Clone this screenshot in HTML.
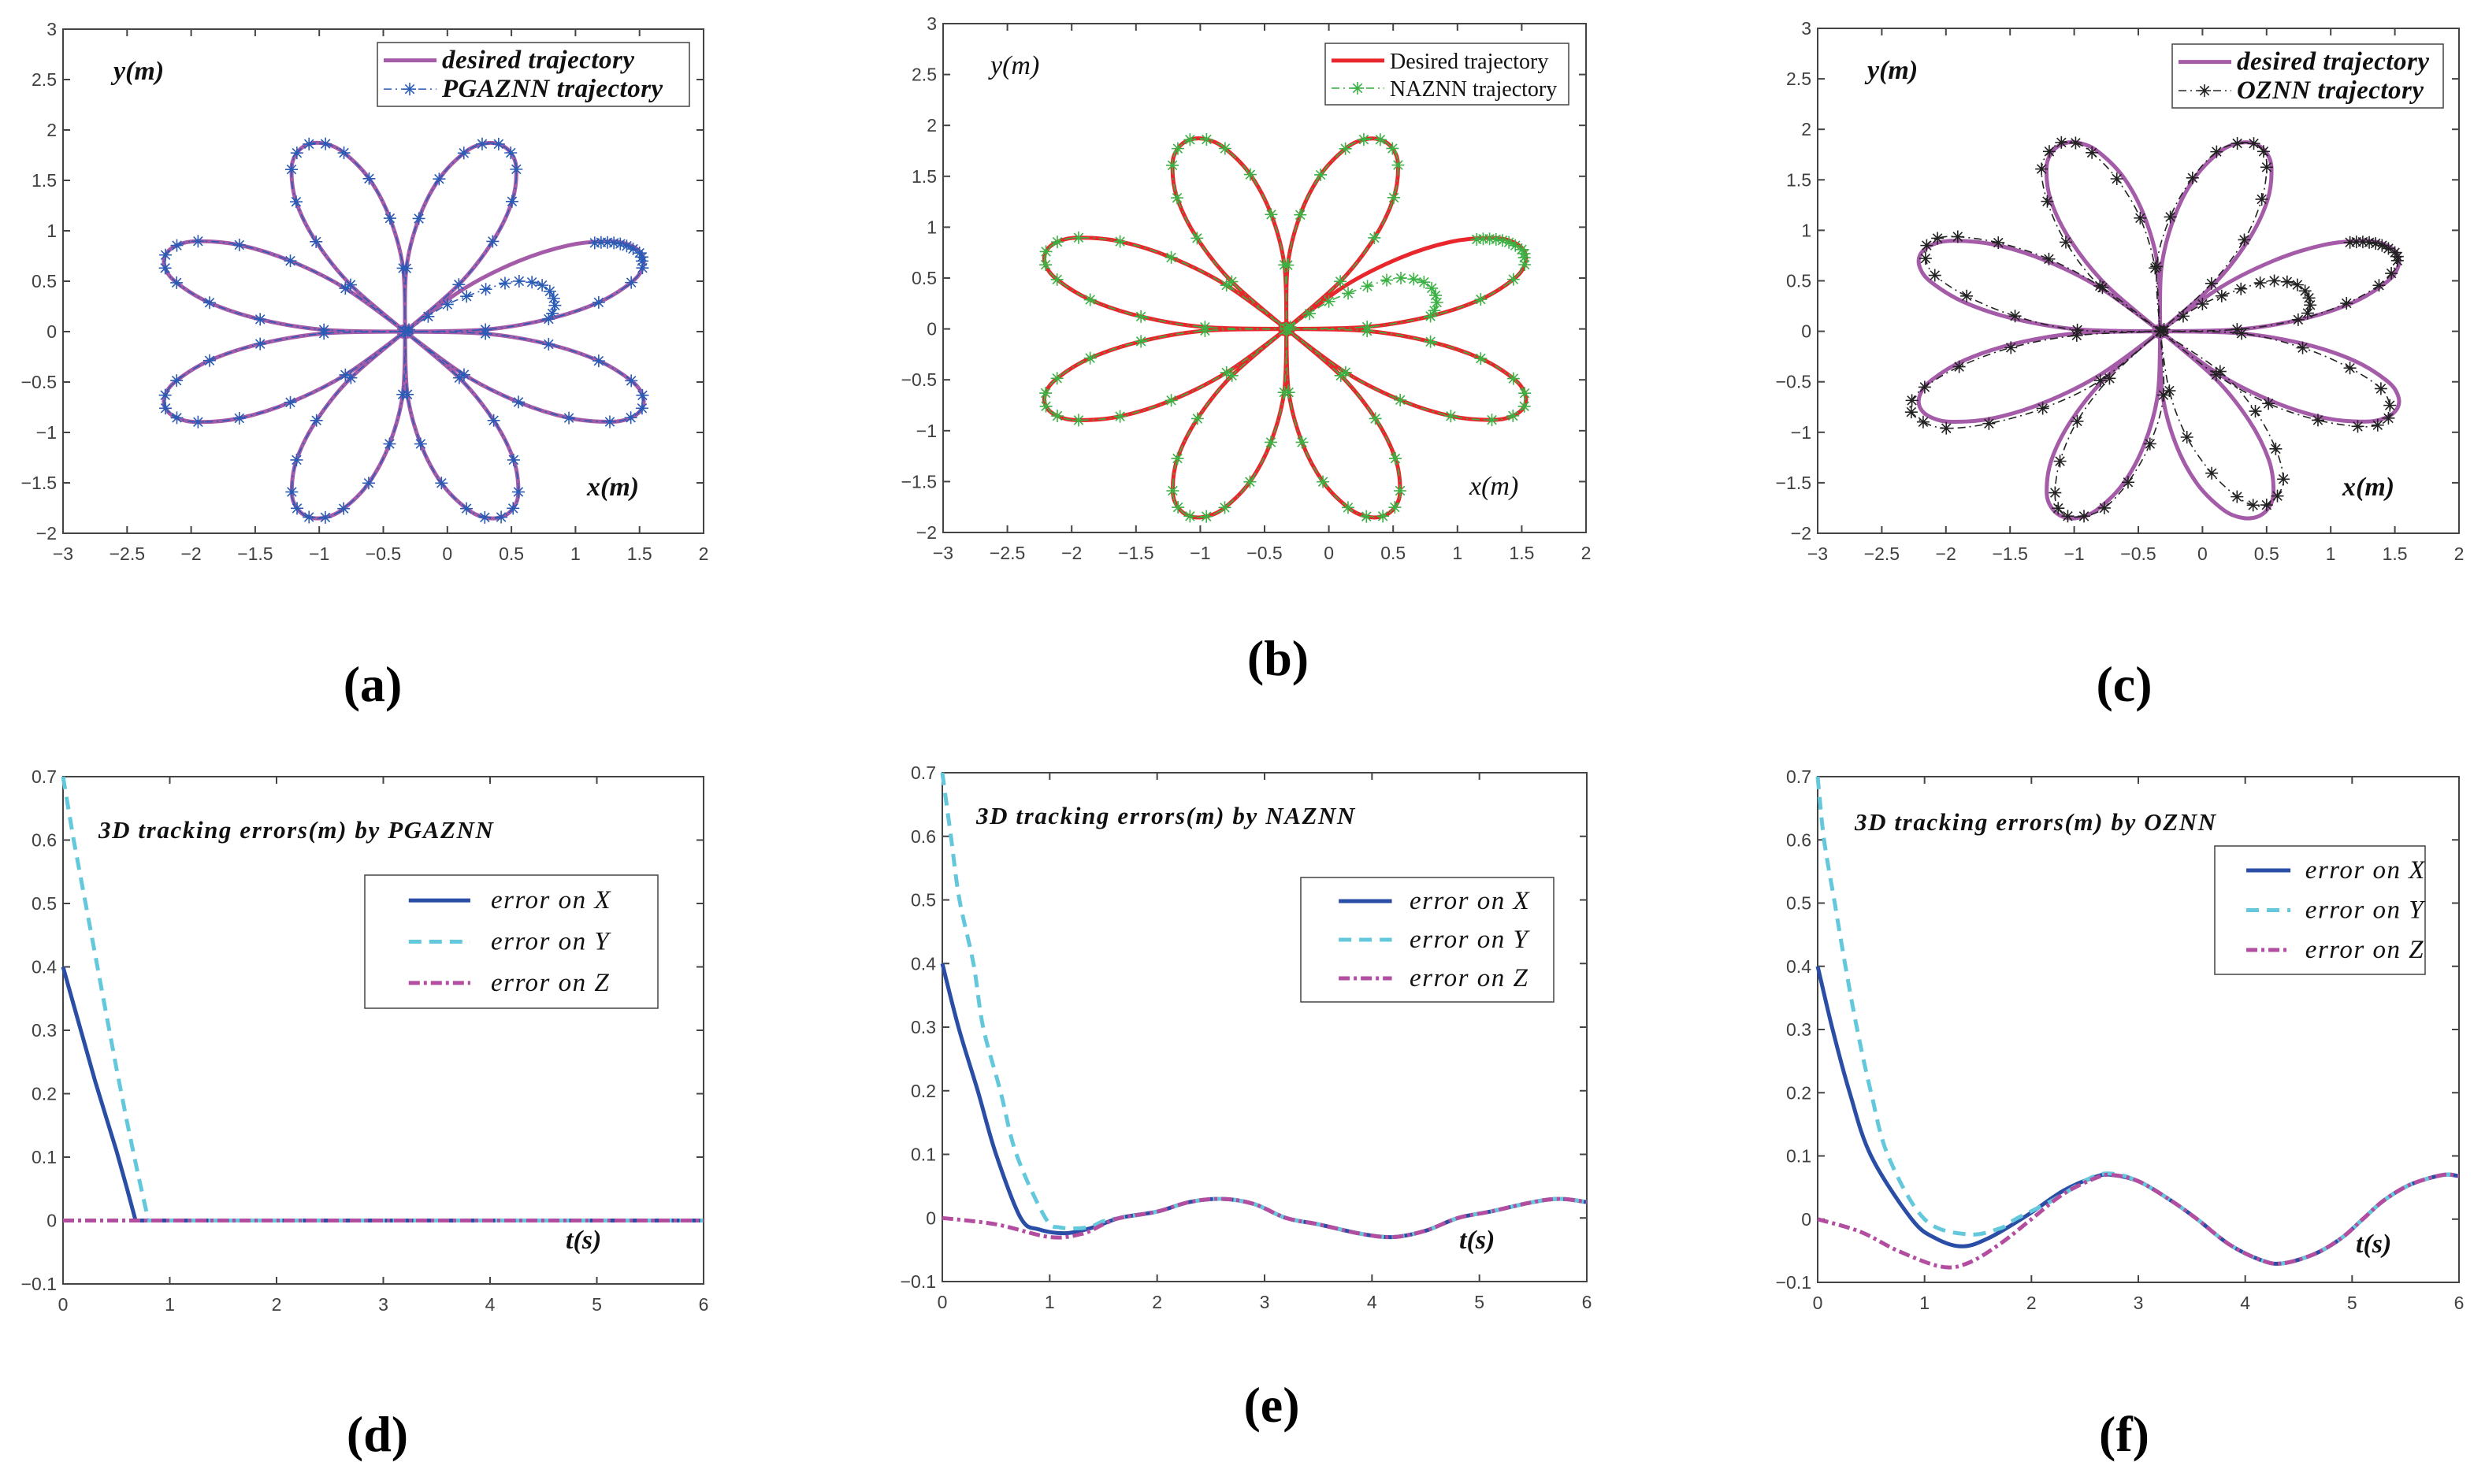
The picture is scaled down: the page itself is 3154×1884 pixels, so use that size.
<!DOCTYPE html>
<html><head><meta charset="utf-8"><style>
html,body{margin:0;padding:0;background:#fff;}
svg{display:block;}
.tick{font-family:"Liberation Sans",sans-serif;font-size:23px;fill:#404040;}
.it{font-family:"Liberation Serif",serif;font-style:italic;fill:#111;}
.cap{font-family:"Liberation Serif",serif;font-weight:bold;font-size:64px;fill:#000;}
</style></head><body>
<svg id="fig" width="3154" height="1884" viewBox="0 0 3154 1884" xmlns="http://www.w3.org/2000/svg"></svg>
<script>
// ---- trajectory data ----
const centerX = -0.33, centerY = 0.0;
const tipX = [1.52, 0.40, -1.08, -2.20, -2.20, -1.08, 0.42, 1.52];
const tipY = [0.76, 1.86, 1.86, 0.76, -0.76, -1.84, -1.84, -0.76];
const profU = [0, 0.294, 0.542, 0.754, 0.909, 0.977, 1, 0.977, 0.909, 0.754, 0.542, 0.294, 0];
const profV = [0, 0.11, 0.155, 0.153, 0.11, 0.06, 0, -0.06, -0.11, -0.153, -0.155, -0.11, 0];
const tipXc = [1.48, 0.40, -1.10, -2.15, -2.27, -1.05, 0.50, 1.45];
const tipYc = [0.68, 1.86, 1.87, 0.85, -0.80, -1.83, -1.72, -0.86];
const profVc = [0, 0.13, 0.17, 0.16, 0.12, 0.06, 0, -0.05, -0.09, -0.13, -0.14, -0.10, 0];
const hookX = [0.82, 0.84, 0.83, 0.80, 0.74, 0.66, 0.56, 0.45, 0.30, 0.15, 0.0, -0.15, -0.30];
const hookY = [0.18, 0.26, 0.33, 0.40, 0.46, 0.49, 0.50, 0.48, 0.42, 0.35, 0.27, 0.15, 0.02];
const clusterX = [1.15, 1.20, 1.25, 1.30, 1.35, 1.40, 1.45, 1.50, 1.52, 1.52];
const clusterY = [0.88, 0.885, 0.885, 0.88, 0.87, 0.85, 0.82, 0.78, 0.74, 0.70];
const xTicksTraj = [-3, -2.5, -2, -1.5, -1, -0.5, 0, 0.5, 1, 1.5, 2];
const yTicksTraj = [-2, -1.5, -1, -0.5, 0, 0.5, 1, 1.5, 2, 2.5, 3];
// ---- error data ----
const tTicks = [0, 1, 2, 3, 4, 5, 6];
const eTicks = [-0.1, 0, 0.1, 0.2, 0.3, 0.4, 0.5, 0.6, 0.7];
const dTx = [0, 0.1, 0.2, 0.3, 0.4, 0.5, 0.6, 0.68, 6];
const dX = [0.4, 0.34, 0.28, 0.22, 0.165, 0.11, 0.05, 0, 0];
const dTy = [0, 0.1, 0.2, 0.3, 0.4, 0.5, 0.6, 0.7, 0.8, 6];
const dY = [0.7, 0.6, 0.51, 0.42, 0.33, 0.24, 0.155, 0.075, 0, 0];
const dTz = [0, 6];
const dZ = [0, 0];
const eTz = [0, 0.5, 1.0, 1.3, 1.5, 1.65, 2.0, 2.3, 2.6, 2.9, 3.2, 3.5, 3.9, 4.2, 4.5, 4.8, 5.1, 5.5, 5.75, 6.0];
const eZ = [0, -0.01, -0.03, -0.025, -0.01, 0, 0.01, 0.025, 0.03, 0.022, 0, -0.01, -0.025, -0.03, -0.02, 0, 0.01, 0.025, 0.03, 0.025];
const eTx = [0, 0.15, 0.33, 0.5, 0.73, 0.9, 1.15, 1.4, 1.65, 2.0, 2.3, 2.6, 2.9, 3.2, 3.5, 3.9, 4.2, 4.5, 4.8, 5.1, 5.5, 5.75, 6.0];
const eX = [0.4, 0.3, 0.2, 0.1, 0.0, -0.018, -0.024, -0.015, 0, 0.01, 0.025, 0.03, 0.022, 0, -0.01, -0.025, -0.03, -0.02, 0, 0.01, 0.025, 0.03, 0.025];
const eTy = [0, 0.08, 0.16, 0.29, 0.38, 0.54, 0.69, 0.96, 1.1, 1.35, 1.5, 1.65, 2.0, 2.3, 2.6, 2.9, 3.2, 3.5, 3.9, 4.2, 4.5, 4.8, 5.1, 5.5, 5.75, 6.0];
const eY = [0.7, 0.6, 0.5, 0.4, 0.3, 0.2, 0.1, 0, -0.015, -0.015, -0.005, 0, 0.01, 0.025, 0.03, 0.022, 0, -0.01, -0.025, -0.03, -0.02, 0, 0.01, 0.025, 0.03, 0.025];
const fTz = [0, 0.4, 0.75, 1.15, 1.4, 1.7, 2.0, 2.3, 2.6, 2.75, 3.0, 3.3, 3.55, 3.85, 4.15, 4.35, 4.65, 4.9, 5.1, 5.3, 5.55, 5.85, 6.0];
const fZ = [0, -0.02, -0.05, -0.075, -0.07, -0.04, 0, 0.04, 0.065, 0.07, 0.06, 0.03, 0, -0.04, -0.065, -0.07, -0.055, -0.03, 0, 0.03, 0.055, 0.07, 0.068];
const fTx = [0, 0.14, 0.3, 0.5, 0.88, 1.1, 1.35, 1.6, 1.95, 2.3, 2.6, 2.75, 3.0, 3.3, 3.55, 3.85, 4.15, 4.35, 4.65, 4.9, 5.1, 5.3, 5.55, 5.85, 6.0];
const fX = [0.4, 0.3, 0.2, 0.1, 0, -0.03, -0.043, -0.03, 0.005, 0.045, 0.067, 0.07, 0.06, 0.03, 0, -0.04, -0.065, -0.07, -0.055, -0.03, 0, 0.03, 0.055, 0.07, 0.068];
const fTy = [0, 0.06, 0.16, 0.26, 0.37, 0.5, 0.66, 1.0, 1.4, 1.7, 1.85, 2.2, 2.55, 2.75, 3.0, 3.3, 3.55, 3.85, 4.15, 4.35, 4.65, 4.9, 5.1, 5.3, 5.55, 5.85, 6.0];
const fY = [0.7, 0.6, 0.5, 0.4, 0.3, 0.2, 0.1, 0, -0.024, -0.015, 0, 0.03, 0.065, 0.072, 0.06, 0.03, 0, -0.04, -0.065, -0.07, -0.055, -0.03, 0, 0.03, 0.055, 0.07, 0.068];

const NS = "http://www.w3.org/2000/svg";
const svg = document.getElementById('fig');
function mk(tag, attrs, parent) {
  const e = document.createElementNS(NS, tag);
  for (const k in attrs) e.setAttribute(k, attrs[k]);
  (parent || svg).appendChild(e);
  return e;
}
function txt(s, x, y, cls, size, anchor, parent) {
  const t = mk('text', {x: x, y: y, class: cls, 'font-size': size, 'text-anchor': anchor || 'start'}, parent);
  t.textContent = s;
  return t;
}
function smooth(pts) {
  if (pts.length < 2) return '';
  let d = 'M' + pts[0][0].toFixed(1) + ',' + pts[0][1].toFixed(1);
  for (let i = 0; i < pts.length - 1; i++) {
    const p0 = pts[Math.max(0, i - 1)], p1 = pts[i], p2 = pts[i + 1], p3 = pts[Math.min(pts.length - 1, i + 2)];
    const c1 = [p1[0] + (p2[0] - p0[0]) / 6, p1[1] + (p2[1] - p0[1]) / 6];
    const c2 = [p2[0] - (p3[0] - p1[0]) / 6, p2[1] - (p3[1] - p1[1]) / 6];
    d += 'C' + c1[0].toFixed(1) + ',' + c1[1].toFixed(1) + ' ' + c2[0].toFixed(1) + ',' + c2[1].toFixed(1) + ' ' + p2[0].toFixed(1) + ',' + p2[1].toFixed(1);
  }
  return d;
}
function axes(g, L, R, T, B, xmin, xmax, ymin, ymax, xt, yt, fmt) {
  const sx = v => L + (v - xmin) / (xmax - xmin) * (R - L);
  const sy = v => B - (v - ymin) / (ymax - ymin) * (B - T);
  const box = mk('rect', {x: L, y: T, width: R - L, height: B - T, fill: 'none', stroke: '#444', 'stroke-width': 2}, g);
  
  
  xt.forEach(v => {
    const x = sx(v);
    mk('line', {x1: x, y1: B, x2: x, y2: B - 9, stroke: '#444', 'stroke-width': 2}, g);
    mk('line', {x1: x, y1: T, x2: x, y2: T + 9, stroke: '#444', 'stroke-width': 2}, g);
    const t = txt(fmt(v), x, B + 34, 'tick', 23, 'middle', g);
    
    
  });
  yt.forEach(v => {
    const y = sy(v);
    mk('line', {x1: L, y1: y, x2: L + 9, y2: y, stroke: '#444', 'stroke-width': 2}, g);
    mk('line', {x1: R, y1: y, x2: R - 9, y2: y, stroke: '#444', 'stroke-width': 2}, g);
    const t = txt(fmt(v), L - 8, y + 8, 'tick', 23, 'end', g);
    
    
  });
  return {sx, sy};
}
const fmtN = v => (v < 0 ? '\u2212' : '') + String(Math.abs(Math.round(v * 10) / 10));
function petalPts(tx, ty, pv, k, i0, i1) {
  const dx = tx[k] - centerX, dy = ty[k] - centerY;
  const out = [];
  for (let i = i0; i <= i1; i++) {
    out.push([centerX + profU[i] * dx - pv[i] * dy, centerY + profU[i] * dy + pv[i] * dx]);
  }
  return out;
}
function star(g, x, y, col) {
  const s = 8, d = 5.7;
  mk('path', {d: `M${x - s},${y}L${x + s},${y}M${x},${y - s}L${x},${y + s}M${x - d},${y - d}L${x + d},${y + d}M${x - d},${y + d}L${x + d},${y - d}`, stroke: col, 'stroke-width': 1.6, fill: 'none'}, g);
}
function trajPanel(name, L, R, T, B, opts) {
  const g = mk('g', {});
  
  
  const {sx, sy} = axes(g, L, R, T, B, -3, 2, -2, 3, xTicksTraj, yTicksTraj, fmtN);
  const P = p => [sx(p[0]), sy(p[1])];
  let des = [];
  for (let k = 0; k < 8; k++) des = des.concat(petalPts(tipX, tipY, profV, k, 0, 12));
  const dp = mk('path', {d: smooth(des.map(P)), fill: 'none', stroke: opts.desCol, 'stroke-width': 5, 'stroke-linejoin': 'round'}, g);
  
  
  const tx = opts.tx, ty = opts.ty, pv = opts.pv;
  let act = clusterX.map((v, i) => [v, clusterY[i]]);
  act = act.concat(petalPts(tx, ty, pv, 0, 7, 12));
  for (let k = 1; k < 8; k++) act = act.concat(petalPts(tx, ty, pv, k, 0, 12));
  const hook = hookX.map((v, i) => [v, hookY[i]]);
  [hook, act].forEach(arr => {
    const ap = mk('path', {d: smooth(arr.map(P)), fill: 'none', stroke: opts.actCol, 'stroke-width': 1.6, 'stroke-dasharray': '10 5 2 5'}, g);
    
    
    arr.forEach(p => { const q = P(p); star(g, q[0], q[1], opts.actCol); });
  });
  const yl = txt('y(m)', L + opts.yo, T + 64, 'it', 34, 'start', g);
  if (!opts.roman) yl.setAttribute('font-weight', 'bold');
  
  
  const xl = txt('x(m)', R - 148, B - 48, 'it', 34, 'start', g);
  if (!opts.roman) xl.setAttribute('font-weight', 'bold');
  
  
  const lg = mk('g', {}, g);
  
  
  const [lx1, ly1, lx2, ly2] = opts.leg;
  mk('rect', {x: lx1, y: ly1, width: lx2 - lx1, height: ly2 - ly1, fill: '#fff', stroke: '#444', 'stroke-width': 1.5}, lg);
  const r1 = ly1 + (ly2 - ly1) * 0.28, r2 = ly1 + (ly2 - ly1) * 0.73;
  mk('line', {x1: lx1 + 8, y1: r1, x2: lx1 + 75, y2: r1, stroke: opts.desCol, 'stroke-width': 5}, lg);
  mk('line', {x1: lx1 + 8, y1: r2, x2: lx1 + 75, y2: r2, stroke: opts.actCol, 'stroke-width': 1.6, 'stroke-dasharray': '10 5 2 5'}, lg);
  star(lg, lx1 + 41, r2, opts.actCol);
  const cls = opts.roman ? '' : 'it';
  const fs = opts.roman ? 28 : 33;
  const t1 = txt(opts.l1, lx1 + 82, r1 + 10, cls, fs, 'start', lg);
  const t2 = txt(opts.l2, lx1 + 82, r2 + 10, cls, fs, 'start', lg);
  if (opts.roman) { [t1, t2].forEach(t => { t.setAttribute('font-family', '"Liberation Serif", serif'); t.setAttribute('fill', '#111'); }); }
  else { [t1, t2].forEach(t => { t.setAttribute('font-weight', 'bold'); t.setAttribute('letter-spacing', '0.5'); }); }
  
  
  
  
}
function errPanel(name, L, R, T, B, opts) {
  const g = mk('g', {});
  
  
  const {sx, sy} = axes(g, L, R, T, B, 0, 6, -0.1, 0.7, tTicks, eTicks, fmtN);
  const series = [
    {t: opts.tx, v: opts.x, col: '#2A4EA6', dash: '', nm: 'error-x-line'},
    {t: opts.ty, v: opts.y, col: '#64C8DC', dash: '16 10', nm: 'error-y-line'},
    {t: opts.tz, v: opts.z, col: '#B24DA0', dash: '14 5 4 5', nm: 'error-z-line'}
  ];
  series.forEach(s => {
    const pts = s.t.map((t, i) => [sx(t), sy(s.v[i])]);
    const p = mk('path', {d: opts.linear ? 'M' + pts.map(q => q[0].toFixed(1) + ',' + q[1].toFixed(1)).join('L') : smooth(pts), fill: 'none', stroke: s.col, 'stroke-width': 5}, g);
    if (s.dash) p.setAttribute('stroke-dasharray', s.dash);
    
    
  });
  const ti = txt(opts.title, opts.tpos[0], opts.tpos[1], 'it', 31, 'start', g);
  ti.setAttribute('font-weight', 'bold');
  ti.setAttribute('letter-spacing', '1.6');
  
  
  const xl = txt('t(s)', opts.tl[0], opts.tl[1], 'it', 34, 'start', g);
  xl.setAttribute('font-weight', 'bold');
  
  
  const lg = mk('g', {}, g);
  
  
  const [lx1, ly1, lx2, ly2] = opts.leg;
  mk('rect', {x: lx1, y: ly1, width: lx2 - lx1, height: ly2 - ly1, fill: '#fff', stroke: '#444', 'stroke-width': 1.5}, lg);
  const h = ly2 - ly1;
  ['X', 'Y', 'Z'].forEach((c, i) => {
    const yy = ly1 + h * (0.19 + 0.31 * i);
    const s = series[i];
    const ln = mk('line', {x1: lx1 + 0.15 * (lx2 - lx1), y1: yy, x2: lx1 + 0.36 * (lx2 - lx1), y2: yy, stroke: s.col, 'stroke-width': 5}, lg);
    if (s.dash) ln.setAttribute('stroke-dasharray', s.dash);
    const t = txt('error on ' + c, lx1 + 0.43 * (lx2 - lx1), yy + 10, 'it', 33, 'start', lg);
    t.setAttribute('letter-spacing', '1.5');
    
    
  });
}
trajPanel('panel-a', 80, 893, 37, 677, {desCol: '#A45BA8', actCol: '#2A5BB5', tx: tipX, ty: tipY, pv: profV, yo: 64, leg: [479, 54, 875, 135], l1: 'desired trajectory', l2: 'PGAZNN trajectory'});
trajPanel('panel-b', 1197, 2013, 30, 676, {desCol: '#E8262B', actCol: '#3BB143', tx: tipX, ty: tipY, pv: profV, yo: 60, leg: [1682, 55, 1991, 133], l1: 'Desired trajectory', l2: 'NAZNN trajectory', roman: true});
trajPanel('panel-c', 2307, 3121, 36, 677, {desCol: '#A45BA8', actCol: '#222', tx: tipXc, ty: tipYc, pv: profVc, yo: 63, leg: [2757, 56, 3101, 137], l1: 'desired trajectory', l2: 'OZNN trajectory'});
errPanel('panel-d', 80, 893, 986, 1630, {tx: dTx, x: dX, ty: dTy, y: dY, tz: dTz, z: dZ, linear: true, title: '3D tracking errors(m) by PGAZNN', tpos: [125, 1064], tl: [718, 1585], leg: [463, 1111, 835, 1280]});
errPanel('panel-e', 1196, 2014, 981, 1627, {tx: eTx, x: eX, ty: eTy, y: eY, tz: eTz, z: eZ, title: '3D tracking errors(m) by NAZNN', tpos: [1239, 1046], tl: [1852, 1585], leg: [1651, 1114, 1972, 1272]});
errPanel('panel-f', 2307, 3121, 986, 1628, {tx: fTx, x: fX, ty: fTy, y: fY, tz: fTz, z: fZ, title: '3D tracking errors(m) by OZNN', tpos: [2354, 1054], tl: [2990, 1590], leg: [2811, 1074, 3078, 1237]});
[['(a)', 473, 890], ['(b)', 1622, 857], ['(c)', 2696, 890], ['(d)', 479, 1842], ['(e)', 1614, 1805], ['(f)', 2696, 1842]].forEach(c => {
  const t = txt(c[0], c[1], c[2], 'cap', 64, 'middle');
  
  
});
</script>
</body></html>
